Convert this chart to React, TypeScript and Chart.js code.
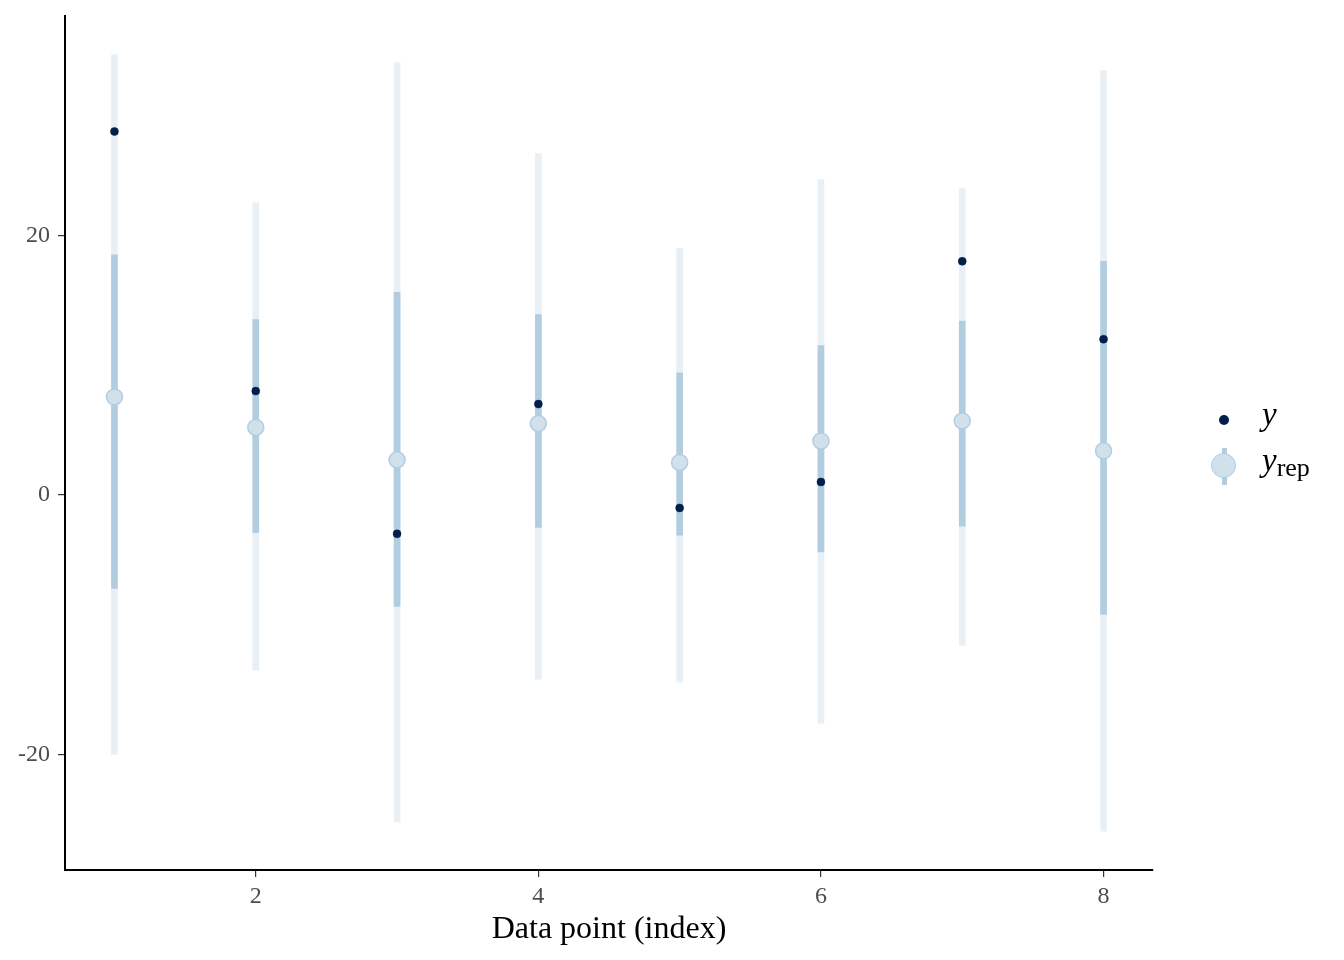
import React, { useEffect, useRef } from "react";
import { Chart, registerables } from "chart.js";

Chart.register(...registerables);

const indices = [1, 2, 3, 4, 5, 6, 7, 8];
const outerLow = [-20.0, -13.5, -25.2, -14.2, -14.4, -17.6, -11.6, -25.9];
const outerHigh = [33.9, 22.5, 33.3, 26.3, 19.0, 24.3, 23.6, 32.7];
const innerLow = [-7.2, -2.9, -8.6, -2.5, -3.1, -4.4, -2.4, -9.2];
const innerHigh = [18.5, 13.5, 15.6, 13.9, 9.4, 11.5, 13.4, 18.0];
const medians = [7.55, 5.2, 2.7, 5.5, 2.5, 4.15, 5.7, 3.4];
const observed = [28.0, 8.0, -3.0, 7.0, -1.0, 1.0, 18.0, 12.0];
const xTicks = [2, 4, 6, 8];
const yTicks = [-20, 0, 20];

const FONT = "'Liberation Serif', 'Times New Roman', serif";

export default function App() {
  const ref = useRef<HTMLCanvasElement | null>(null);

  useEffect(() => {
    if (!ref.current) return;
    const chart = new Chart(ref.current, {
      type: "bar",
      data: {
        datasets: [
          {
            type: "bar",
            label: "outer",
            data: indices.map((x, i) => ({ x, y: [outerLow[i], outerHigh[i]] })) as any,
            backgroundColor: "#e8f0f6",
            borderWidth: 0,
            barThickness: 6,
            grouped: false,
            order: 4,
          } as any,
          {
            type: "bar",
            label: "inner",
            data: indices.map((x, i) => ({ x, y: [innerLow[i], innerHigh[i]] })) as any,
            backgroundColor: "#b3cde0",
            borderWidth: 0,
            barThickness: 6,
            grouped: false,
            order: 3,
          } as any,
          {
            type: "scatter",
            label: "yrep",
            data: indices.map((x, i) => ({ x, y: medians[i] })),
            backgroundColor: "#d1e1ec",
            borderColor: "#b3cde0",
            borderWidth: 1.5,
            pointRadius: 8,
            order: 2,
          } as any,
          {
            type: "scatter",
            label: "y",
            data: indices.map((x, i) => ({ x, y: observed[i] })),
            backgroundColor: "#011f4b",
            borderColor: "#011f4b",
            borderWidth: 0.5,
            pointRadius: 4,
            order: 1,
          } as any,
        ],
      },
      options: {
        animation: false,
        responsive: false,
        maintainAspectRatio: false,
        layout: { padding: { left: 0, right: 191, top: 16, bottom: 0 } },
        plugins: {
          legend: { display: false },
          tooltip: { enabled: false },
        },
        scales: {
          x: {
            type: "linear",
            min: 0.65,
            max: 8.35,
            offset: false,
            afterBuildTicks: (s: any) => {
              s.ticks = xTicks.map((v) => ({ value: v }));
            },
            afterFit: (s: any) => {
              s.height = 90;
              s.paddingLeft = 0;
              s.paddingRight = 0;
            },
            grid: {
              display: true,
              offset: false,
              drawOnChartArea: false,
              drawTicks: true,
              tickLength: 7,
              color: "#333333",
              lineWidth: 1.2,
            },
            border: { display: true, color: "#000000", width: 2 },
            ticks: {
              color: "#4d4d4d",
              font: { family: FONT, size: 24 },
              padding: 5,
              maxRotation: 0,
              autoSkip: false,
              callback: (v: any) => String(v),
            },
            title: {
              display: true,
              text: "Data point (index)",
              color: "#000000",
              font: { family: FONT, size: 32 },
              padding: { top: 0, bottom: 11 },
            },
          },
          y: {
            type: "linear",
            min: -28.9,
            max: 36.9,
            afterBuildTicks: (s: any) => {
              s.ticks = yTicks.map((v) => ({ value: v }));
            },
            afterFit: (s: any) => {
              s.width = 65;
              s.paddingTop = 0;
              s.paddingBottom = 0;
            },
            grid: {
              display: true,
              offset: false,
              drawOnChartArea: false,
              drawTicks: true,
              tickLength: 7,
              color: "#333333",
              lineWidth: 1.2,
            },
            border: { display: true, color: "#000000", width: 2 },
            ticks: {
              color: "#4d4d4d",
              font: { family: FONT, size: 24 },
              padding: 8,
              autoSkip: false,
              callback: (v: any) => String(v),
            },
          },
        },
      },
    });
    return () => chart.destroy();
  }, []);

  const legendText: React.CSSProperties = {
    position: "absolute",
    fontFamily: FONT,
    color: "#000",
    lineHeight: 1,
    whiteSpace: "nowrap",
  };

  return (
    <div
      style={{
        position: "absolute",
        left: 0,
        top: 0,
        width: 1344,
        height: 960,
        background: "#ffffff",
      }}
    >
      <canvas ref={ref} width={1344} height={960} style={{ width: 1344, height: 960, display: "block" }} />
      {/* legend: y */}
      <div
        style={{
          position: "absolute",
          left: 1219,
          top: 415,
          width: 10,
          height: 10,
          borderRadius: "50%",
          background: "#011f4b",
        }}
      />
      <div style={{ ...legendText, left: 1262, top: 398, fontSize: 33, fontStyle: "italic" }}>y</div>
      {/* legend: yrep */}
      <div
        style={{
          position: "absolute",
          left: 1222,
          top: 448,
          width: 5,
          height: 37,
          background: "#b3cde0",
        }}
      />
      <div
        style={{
          position: "absolute",
          left: 1211,
          top: 453,
          width: 23,
          height: 23,
          borderRadius: "50%",
          background: "#d1e1ec",
          border: "1.5px solid #b3cde0",
        }}
      />
      <div style={{ ...legendText, left: 1262, top: 444 }}>
        <span style={{ fontSize: 33, fontStyle: "italic" }}>y</span>
        <span style={{ fontSize: 26, position: "relative", top: 5 }}>rep</span>
      </div>
    </div>
  );
}
